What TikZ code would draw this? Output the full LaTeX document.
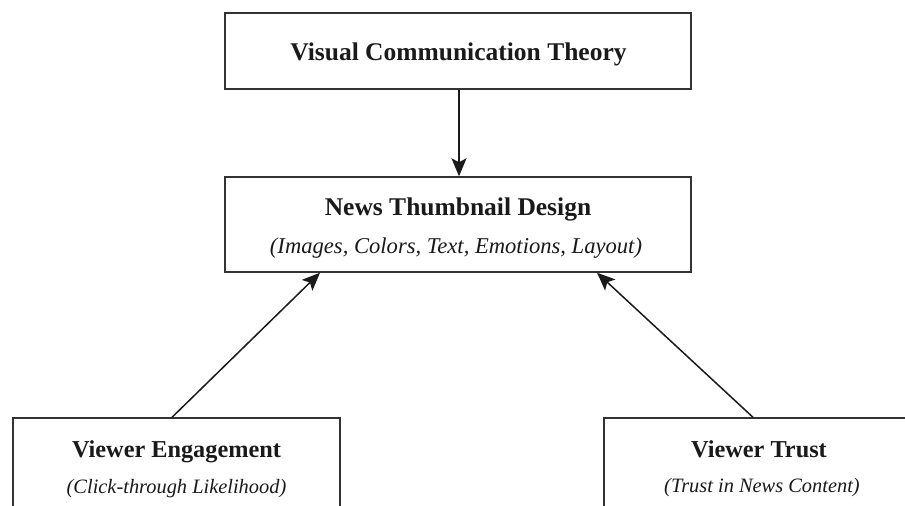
\documentclass[tikz,border=0pt]{standalone}
\usepackage{fontspec}
\setmainfont{Liberation Serif}
\usetikzlibrary{arrows.meta}
\definecolor{ink}{HTML}{1A1A1A}
\definecolor{edge}{HTML}{333333}
\tikzset{
  box/.style={draw=edge, line width=1.4pt, rectangle, inner sep=0pt},
  ttl/.style={anchor=base, text=ink, font=\fontsize{25.5}{28}\selectfont\bfseries, inner sep=0pt},
  sub/.style={anchor=base, text=ink, font=\fontsize{22.6}{26}\selectfont\itshape, inner sep=0pt},
  bttl/.style={anchor=base, text=ink, font=\fontsize{24.3}{27}\selectfont\bfseries, inner sep=0pt},
  bsub/.style={anchor=base, text=ink, font=\fontsize{20.4}{24}\selectfont\itshape, inner sep=0pt},
  conn/.style={draw=ink, line width=1.5pt, -{Stealth[length=18pt,width=15pt,inset=4pt]}}
}
\begin{document}
\begin{tikzpicture}[x=1pt,y=-1pt]
\useasboundingbox (0,0) rectangle (905,506);
\fill[white] (0,0) rectangle (905,506);
\clip (0,0) rectangle (905,506);
% boxes
\node[box, minimum width=466pt, minimum height=76pt] (vct) at (458,51) {};
\node[box, minimum width=466pt, minimum height=95pt] (ntd) at (458,224.5) {};
\node[box, minimum width=327pt, minimum height=150pt] (ve) at (176.5,493) {};
\node[box, minimum width=327pt, minimum height=150pt] (vt) at (767.5,493) {};
% texts
\node[ttl] (vctT) at (458.5,60) {Visual Communication Theory};
\node[ttl] (ntdT) at (458,215) {News Thumbnail Design};
\node[sub] (ntdS) at (456,253) {(Images, Colors, Text, Emotions, Layout)};
\node[bttl] (veT) at (176.5,457) {Viewer Engagement};
\node[bsub] (veS) at (176.5,493) {(Click-through Likelihood)};
\node[bttl] (vtT) at (759,457) {Viewer Trust};
\node[bsub] (vtS) at (762,492) {(Trust in News Content)};
% connectors
\draw[conn] ([xshift=1pt]vct.south) -- ([xshift=1pt]ntd.north);
\draw[conn] ([xshift=-4.5pt]ve.north) -- ([xshift=-138pt]ntd.south);
\draw[conn] ([xshift=-14.5pt]vt.north) -- ([xshift=139pt]ntd.south);
\end{tikzpicture}
\end{document}
